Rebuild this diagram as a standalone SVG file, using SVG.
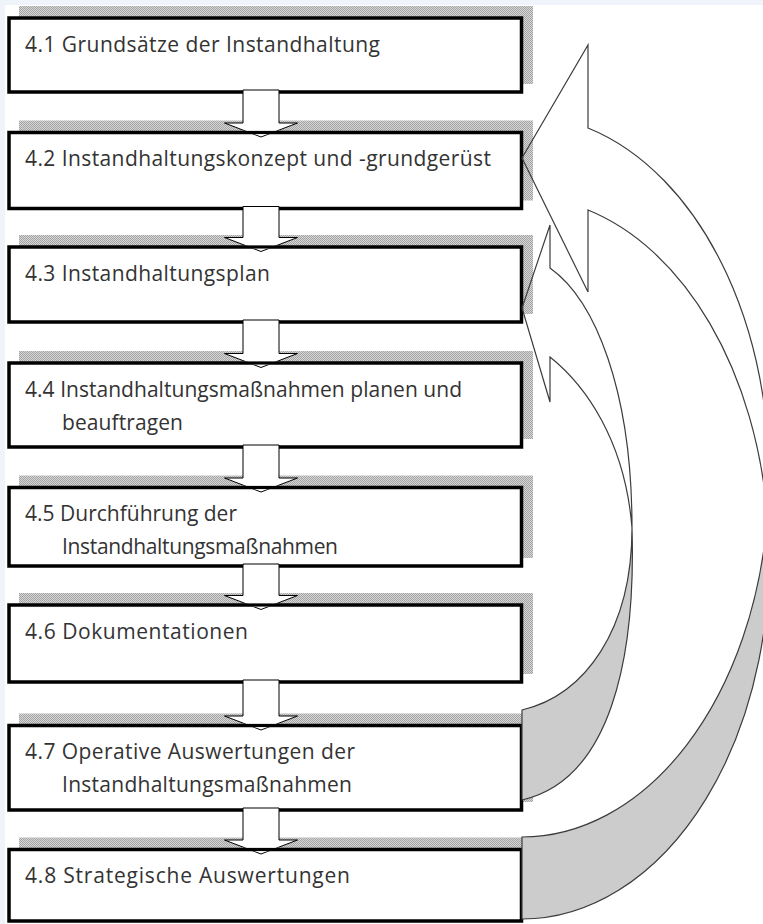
<svg xmlns="http://www.w3.org/2000/svg" width="763" height="924" viewBox="0 0 763 924">
<defs>
<pattern id="hatch" width="2" height="2" patternUnits="userSpaceOnUse">
<rect width="2" height="2" fill="#d6d6d6"/>
<rect width="1" height="1" fill="#a4a4a4"/>
<rect x="1" y="1" width="1" height="1" fill="#a4a4a4"/>
</pattern>
<mask id="borderGap" maskUnits="userSpaceOnUse" x="0" y="0" width="763" height="924">
<rect width="763" height="924" fill="#fff"/>
<rect x="215" y="130.75" width="90" height="3.5" fill="#000"/>
<rect x="215" y="245.25" width="90" height="3.5" fill="#000"/>
<rect x="215" y="361.25" width="90" height="3.5" fill="#000"/>
<rect x="215" y="485.75" width="90" height="3.5" fill="#000"/>
<rect x="215" y="603.25" width="90" height="3.5" fill="#000"/>
<rect x="215" y="723.75" width="90" height="3.5" fill="#000"/>
<rect x="215" y="847.75" width="90" height="3.5" fill="#000"/>
</mask>
</defs>
<style>
.shadow{fill:url(#hatch)}
.box{fill:#fff;stroke:#000;stroke-width:3.5}
.lbl{font-family:"Open Sans","Noto Sans","DejaVu Sans",sans-serif;font-size:21px;fill:#333}
.down{fill:#fff;stroke:#000;stroke-width:1}
.front{fill:none;stroke:#3c3c3c;stroke-width:1.2}
.back{fill:#cccccc;stroke:#3c3c3c;stroke-width:1.2}
</style>
<rect width="763" height="924" fill="#eef4fa"/>
<rect x="5" y="5" width="758" height="919" fill="#fff"/>

<g id="node-4-1">
<rect class="shadow" x="19" y="6" width="514" height="78"/>
<rect class="box" x="9" y="18" width="512.5" height="74"/>
<text class="lbl" x="25" y="52" textLength="355" lengthAdjust="spacing">4.1 Grundsätze der Instandhaltung</text>
</g>
<g id="node-4-2">
<rect class="shadow" x="19" y="120.5" width="514" height="80"/>
<rect class="box" x="9" y="132.5" width="512.5" height="76"/>
<text class="lbl" x="25" y="166" textLength="466" lengthAdjust="spacing">4.2 Instandhaltungskonzept und -grundgerüst</text>
</g>
<g id="node-4-3">
<rect class="shadow" x="19" y="235" width="514" height="79"/>
<rect class="box" x="9" y="247" width="512.5" height="75"/>
<text class="lbl" x="25" y="280.5" textLength="245" lengthAdjust="spacing">4.3 Instandhaltungsplan</text>
</g>
<g id="node-4-4">
<rect class="shadow" x="19" y="351" width="514" height="88"/>
<rect class="box" x="9" y="363" width="512.5" height="84"/>
<text class="lbl" x="25" y="396.5" textLength="437" lengthAdjust="spacing">4.4 Instandhaltungsmaßnahmen planen und</text>
<text class="lbl" x="62" y="429.5" textLength="121" lengthAdjust="spacing">beauftragen</text>
</g>
<g id="node-4-5">
<rect class="shadow" x="19" y="475.5" width="514" height="82.5"/>
<rect class="box" x="9" y="487.5" width="512.5" height="78.5"/>
<text class="lbl" x="25" y="521" textLength="212" lengthAdjust="spacing">4.5 Durchführung der</text>
<text class="lbl" x="62" y="554" textLength="276" lengthAdjust="spacing">Instandhaltungsmaßnahmen</text>
</g>
<g id="node-4-6">
<rect class="shadow" x="19" y="593" width="514" height="81"/>
<rect class="box" x="9" y="605" width="512.5" height="77"/>
<text class="lbl" x="25" y="638.5" textLength="223" lengthAdjust="spacing">4.6 Dokumentationen</text>
</g>
<g id="node-4-7">
<rect class="shadow" x="19" y="713.5" width="514" height="88.5"/>
<rect class="box" x="9" y="725.5" width="512.5" height="84.5"/>
<text class="lbl" x="25" y="759" textLength="330" lengthAdjust="spacing">4.7 Operative Auswertungen der</text>
<text class="lbl" x="62" y="792" textLength="290" lengthAdjust="spacing">Instandhaltungsmaßnahmen</text>
</g>
<g id="node-4-8">
<rect class="shadow" x="19" y="837.5" width="514" height="75.5"/>
<rect class="box" x="9" y="849.5" width="512.5" height="71.5"/>
<text class="lbl" x="25" y="883" textLength="325" lengthAdjust="spacing">4.8 Strategische Auswertungen</text>
</g>

<g id="connectors">
<g mask="url(#borderGap)">
<polygon class="down" points="243,90 279,90 279,123 297.5,123 261,137 224.5,123 243,123"/>
<polygon class="down" points="243,206.5 279,206.5 279,237.5 297.5,237.5 261,251.5 224.5,237.5 243,237.5"/>
<polygon class="down" points="243,320 279,320 279,353.5 297.5,353.5 261,367.5 224.5,353.5 243,353.5"/>
<polygon class="down" points="243,445 279,445 279,478 297.5,478 261,492 224.5,478 243,478"/>
<polygon class="down" points="243,564 279,564 279,595.5 297.5,595.5 261,609.5 224.5,595.5 243,595.5"/>
<polygon class="down" points="243,680 279,680 279,716 297.5,716 261,730 224.5,716 243,716"/>
<polygon class="down" points="243,808 279,808 279,840 297.5,840 261,854 224.5,840 243,840"/>
</g>
<path class="back" d="M767.4,517 A247,361 0 0 1 522,837 L522,919 A247,361 0 0 0 767.4,517 Z"/>
<path class="front" d="M588,128 A247,361 0 0 1 767.4,517 A247,361 0 0 0 588,210 L588,292 L522,158 L588,45 Z"/>
<path class="back" d="M632,528 C632,630 585,695 522,710 L522,800 C610,780 636,660 632,528 Z"/>
<path class="front" d="M550,268 C595,300 632,390 632,528 C625,440 585,385 550,357 L550,402 L522,308 L550,225 Z"/>
</g>
</svg>
